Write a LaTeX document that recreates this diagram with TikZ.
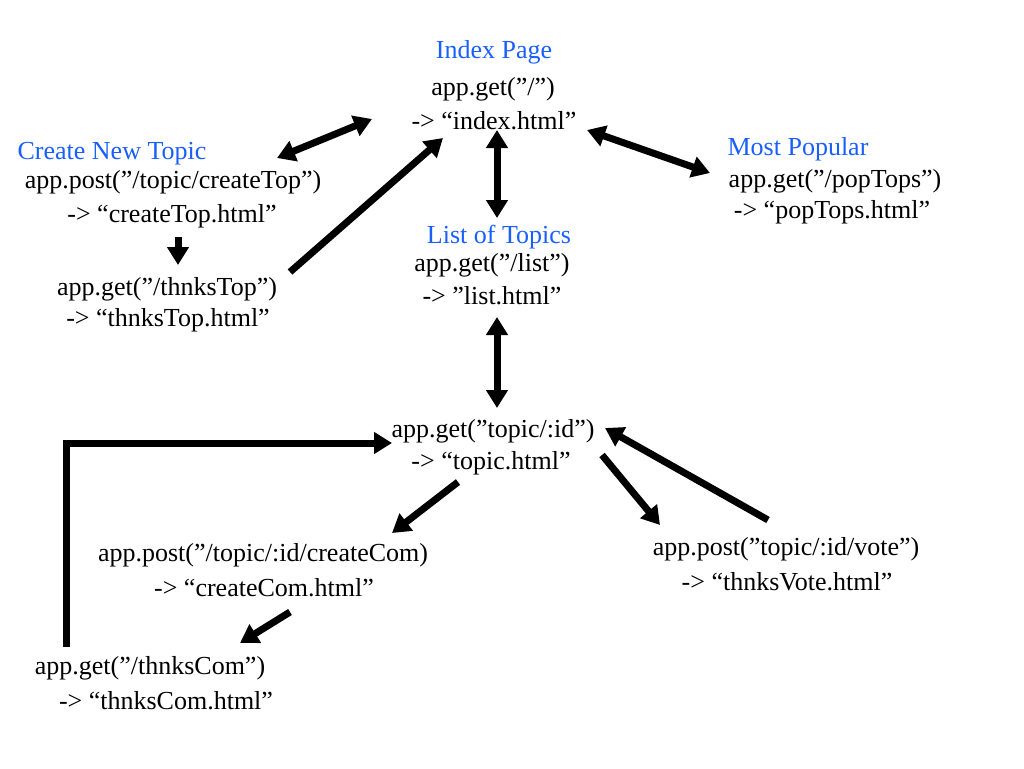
\documentclass[tikz,border=0pt]{standalone}
\usepackage{fontspec}
\setmainfont{Liberation Serif}
\usetikzlibrary{arrows.meta,calc}
\definecolor{titleblue}{RGB}{25,95,255}
\begin{document}
\begin{tikzpicture}[x=1pt,y=-1pt,
  lbl/.style={inner sep=0pt, font=\fontsize{26}{30}\selectfont},
  ttl/.style={lbl, text=titleblue},
  conn/.style={line width=7pt, -{Triangle[length=18pt,width=21pt]}},
  dconn/.style={line width=7pt, {Triangle[length=18pt,width=21pt]}-{Triangle[length=18pt,width=21pt]}}]
\useasboundingbox (0,0) rectangle (1024,768);
% Index page
\node[ttl] (idxT) at (494,52) {Index Page};
\node[lbl] (idx1) at (493,89) {app.get(”/”)};
\node[lbl] (idx2) at (494,121) {-> “index.html”};
% Create new topic
\node[ttl] (ctT) at (112,154) {Create New Topic};
\node[lbl] (ct1) at (173,182) {app.post(”/topic/createTop”)};
\node[lbl] (ct2) at (172,216) {-> “createTop.html”};
\node[lbl] (tt1) at (167,289) {app.get(”/thnksTop”)};
\node[lbl] (tt2) at (168,320) {-> “thnksTop.html”};
% List
\node[ttl] (lsT) at (499,237) {List of Topics};
\node[lbl] (ls1) at (492,265) {app.get(”/list”)};
\node[lbl] (ls2) at (492,296) {-> ”list.html”};
% Most popular
\node[ttl] (mpT) at (798,149) {Most Popular};
\node[lbl] (mp1) at (835,181) {app.get(”/popTops”)};
\node[lbl] (mp2) at (832,212) {-> “popTops.html”};
% Topic
\node[lbl] (tp1) at (493,431) {app.get(”topic/:id”)};
\node[lbl] (tp2) at (491,463) {-> “topic.html”};
\node[lbl] (cc1) at (263,555) {app.post(”/topic/:id/createCom)};
\node[lbl] (cc2) at (264,588) {-> “createCom.html”};
\node[lbl] (tc1) at (150,668) {app.get(”/thnksCom”)};
\node[lbl] (tc2) at (166,701) {-> “thnksCom.html”};
\node[lbl] (vt1) at (786,549) {app.post(”topic/:id/vote”)};
\node[lbl] (vt2) at (787,582) {-> “thnksVote.html”};
% connectors
\draw[dconn] ($(ctT)+(165,4)$) -- ($(idx2)+(-122,-2)$);
\draw[conn] ($(tt1)+(123,-17)$) -- ($(idx2)+(-51,17)$);
\draw[dconn] ($(idx2)+(3,9)$) -- ($(lsT)+(-2,-19)$);
\draw[dconn] ($(idx2)+(93,9)$) -- ($(mp1)+(-125,-8)$);
\draw[dconn] ($(ls2)+(5,21)$) -- ($(tp1)+(4,-23)$);
\draw[conn] ($(ct2)+(6,21)$) -- ($(tt1)+(11,-24)$);
\draw[conn, line join=miter] ($(tc1)+(-84,-21)$) |- ($(tp1)+(-101,12)$);
\draw[conn] ($(tp2)+(-33,19)$) -- ($(cc1)+(129,-22)$);
\draw[conn] ($(cc2)+(26,24)$) -- ($(tc1)+(90,-25)$);
\draw[conn] ($(tp2)+(111,-8)$) -- ($(vt1)+(-126,-24)$);
\draw[conn] ($(vt1)+(-18,-29)$) -- ($(tp1)+(112,-3)$);
\end{tikzpicture}
\end{document}
